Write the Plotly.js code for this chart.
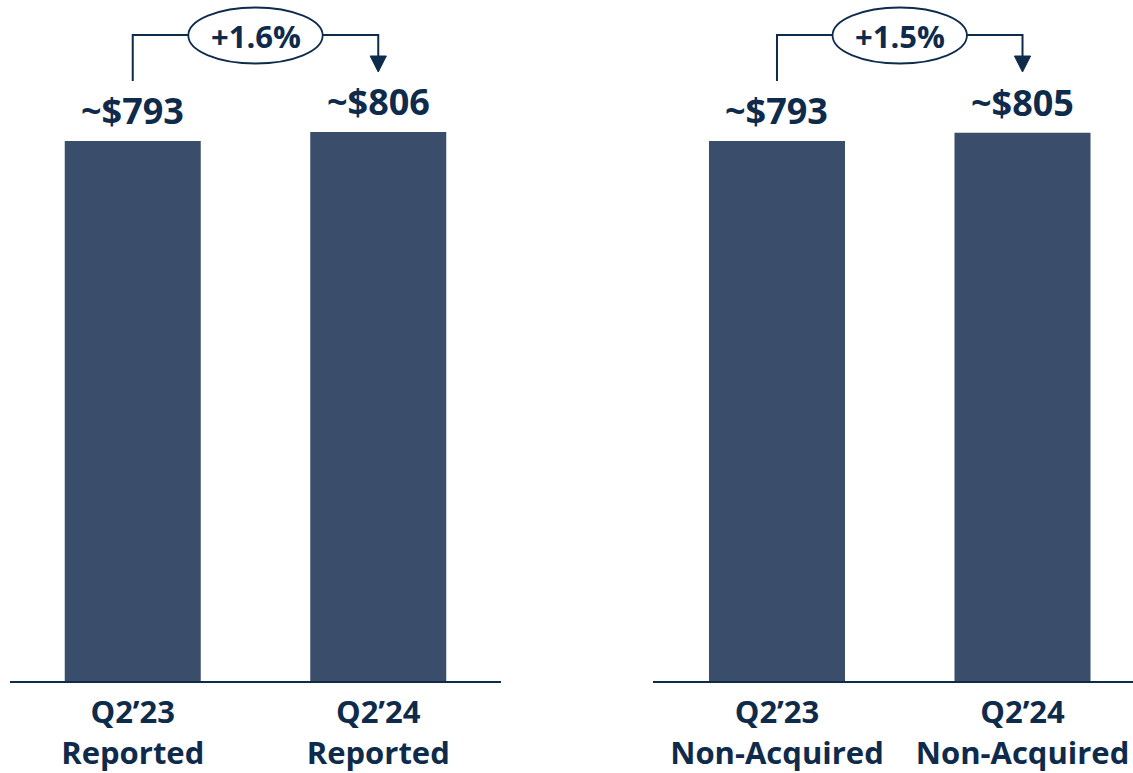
<!DOCTYPE html>
<html>
<head>
<meta charset="utf-8">
<script src="https://cdn.plot.ly/plotly-3.0.1.min.js"></script>
<style>html,body{margin:0;padding:0;background:#fff;}#chart{width:1133px;height:773px;}</style>
</head>
<body>
<div id="chart"></div>
<script>
// ---- data ----
const categoriesLeft = ['Q2’23<br>Reported', 'Q2’24<br>Reported'];
const categoriesRight = ['Q2’23<br>Non-Acquired', 'Q2’24<br>Non-Acquired'];
const valuesLeft = [793, 806];
const valuesRight = [793, 805];
const growthLabels = ['+1.6%', '+1.5%'];

// ---- style ----
const BAR = '#3A4D6B';
const NAVY = '#0F2B4C';
const FONT = 'Open Sans, Noto Sans, sans-serif';
const W = 1133, H = 773;
const py = p => 1 - p / H;

const idx = [0, 1];

const traces = [
  {type: 'bar', x: idx, y: valuesLeft, xaxis: 'x', yaxis: 'y', width: 0.554,
   marker: {color: BAR}, hoverinfo: 'skip'},
  {type: 'bar', x: idx, y: valuesRight, xaxis: 'x2', yaxis: 'y2', width: 0.554,
   marker: {color: BAR}, hoverinfo: 'skip'}
];

const annotations = [];
const shapes = [];
[[valuesLeft, 'x', 'y'], [valuesRight, 'x2', 'y2']].forEach(([vals, xr, yr], p) => {
  vals.forEach((v, i) => {
    annotations.push({xref: xr, yref: yr, x: idx[i], y: v, text: '~$' + v,
      showarrow: false, yanchor: 'bottom', yshift: 4,
      font: {family: FONT, size: 36, color: NAVY, weight: 700}});
  });
  // bracket from first bar to second
  const halfE = 0.2737;
  const lineTop = 35, startBottom = 81, headTop = 56, tip = 72, halfHead = 0.033;
  shapes.push({type: 'path', xref: xr, yref: 'paper',
    path: `M ${idx[0]} ${py(startBottom)} L ${idx[0]} ${py(lineTop)} L ${0.5 - halfE} ${py(lineTop)}`,
    line: {color: NAVY, width: 2}});
  shapes.push({type: 'path', xref: xr, yref: 'paper',
    path: `M ${0.5 + halfE} ${py(lineTop)} L ${idx[1]} ${py(lineTop)} L ${idx[1]} ${py(headTop)}`,
    line: {color: NAVY, width: 2}});
  shapes.push({type: 'path', xref: xr, yref: 'paper',
    path: `M ${idx[1] - halfHead} ${py(headTop)} L ${idx[1] + halfHead} ${py(headTop)} L ${idx[1]} ${py(tip)} Z`,
    fillcolor: NAVY, line: {color: NAVY, width: 1}});
  shapes.push({type: 'circle', xref: xr, yref: 'paper',
    x0: 0.5 - halfE, x1: 0.5 + halfE, y0: py(63.5), y1: py(7.5),
    fillcolor: '#FFFFFF', line: {color: NAVY, width: 1.8}});
  annotations.push({xref: xr, yref: 'paper', x: 0.5, y: py(36), text: growthLabels[p],
    showarrow: false, yanchor: 'middle',
    font: {family: FONT, size: 31, color: NAVY, weight: 700}});
});

const xCommon = {
  type: 'linear', tickmode: 'array', tickvals: idx, showgrid: false, zeroline: false,
  showline: true, linecolor: NAVY, linewidth: 2, ticks: '', fixedrange: true,
  tickfont: {family: FONT, size: 31, color: NAVY, weight: 700}, ticklabelstandoff: 3
};
const yCommon = {range: [0, 1000], domain: [92 / H, 1], visible: false, fixedrange: true};

const layout = {
  width: W, height: H,
  margin: {l: 0, r: 0, t: 0, b: 0},
  paper_bgcolor: '#FFFFFF', plot_bgcolor: '#FFFFFF',
  showlegend: false,
  xaxis: Object.assign({}, xCommon, {domain: [10 / W, 501 / W], range: [-0.5, 1.5],
    ticktext: categoriesLeft, anchor: 'y'}),
  xaxis2: Object.assign({}, xCommon, {domain: [653 / W, 1], range: [-0.505, 1.45],
    ticktext: categoriesRight, anchor: 'y2'}),
  yaxis: Object.assign({}, yCommon, {anchor: 'x'}),
  yaxis2: Object.assign({}, yCommon, {anchor: 'x2'}),
  shapes: shapes,
  annotations: annotations
};

Plotly.newPlot('chart', traces, layout, {displayModeBar: false, staticPlot: true});
</script>
</body>
</html>
